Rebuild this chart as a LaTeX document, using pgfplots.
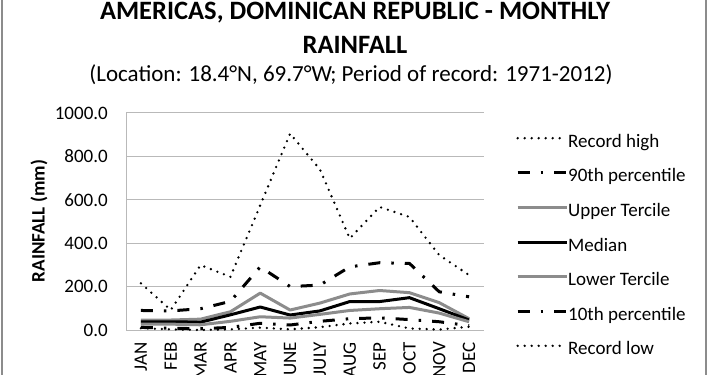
\documentclass[border=0pt]{standalone}
\usepackage{pgfplots}
\pgfplotsset{compat=1.18}
\usepackage{fontspec}
\setmainfont{Carlito}
\definecolor{tgray}{RGB}{140,140,140}
\definecolor{gridgray}{RGB}{185,185,185}
\definecolor{framegray}{RGB}{140,140,140}
\begin{document}
\begin{tikzpicture}[x=1pt,y=1pt]
\useasboundingbox (0,0) rectangle (710,375);
\clip (0,0) rectangle (710,375);
\fill[white] (0,0) rectangle (710,375);
\draw[framegray, line width=2pt] (1.5,0) -- (1.5,375);
\draw[framegray, line width=2pt] (706,0) -- (706,375);
\node[anchor=base, font=\bfseries\fontsize{26.5}{30}\selectfont] at (355,355) {AMERICAS, DOMINICAN REPUBLIC - MONTHLY};
\node[anchor=base, font=\bfseries\fontsize{26.5}{30}\selectfont] at (355,321) {RAINFALL};
\node[anchor=base, font=\fontsize{23}{27}\selectfont] at (351,293) {(Location: 18.4°N, 69.7°W; Period of record: 1971-2012)};
\node[rotate=90, font=\bfseries\fontsize{19}{22}\selectfont] at (39,154) {RAINFALL (mm)};
\begin{axis}[
  at={(126pt,45pt)}, anchor=south west,
  scale only axis, width=358pt, height=217pt,
  xmin=-0.5, xmax=11.5, ymin=0, ymax=1000,
  ytick={0,200,400,600,800,1000},
  xtick={0,...,11},
  xticklabels={JAN,FEB,MAR,APR,MAY,JUNE,JULY,AUG,SEP,OCT,NOV,DEC},
  xticklabel style={rotate=90, anchor=east, inner sep=0pt, xshift=-12pt},
  yticklabel style={anchor=east, inner sep=0pt, xshift=-18pt, /pgf/number format/.cd, fixed, fixed zerofill, precision=1, 1000 sep={}},
  /pgf/number format/assume math mode=true,
  tick label style={font=\fontsize{19}{22}\selectfont},
  major tick length=0pt,
  axis x line=bottom, axis y line=left,
  axis line style={-, color=gridgray, line width=1pt},
  ymajorgrids, grid style={gridgray, line width=1pt},
  clip=false,
  legend style={draw=none, fill=none, at={(1,1)}, anchor=north west, xshift=32pt, yshift=-21pt,
    font=\fontsize{19}{22}\selectfont, inner sep=0pt, row sep=16.6pt,
    nodes={inner sep=0pt, text height=13pt, text depth=5pt}},
  legend cell align=left,
  legend image code/.code={\draw[#1] (0pt,5pt) -- (49pt,5pt);},
  every even column/.style={column sep=8pt},
]
\addplot[black, line width=2.6pt, line cap=round, line join=round, dash pattern=on 0pt off 7pt] coordinates {(0,215)(1,92)(2,299)(3,245)(4,575)(5,905)(6,740)(7,422)(8,567)(9,521)(10,345)(11,253)};
\addlegendentry{Record high}
\addplot[black, line width=3pt, line join=round, dash pattern=on 12pt off 11pt on 2.5pt off 11pt] coordinates {(0,90)(1,88)(2,98)(3,132)(4,291)(5,200)(6,207)(7,291)(8,310)(9,307)(10,176)(11,153)};
\addlegendentry{90th percentile}
\addplot[tgray, line width=3pt, line join=round] coordinates {(0,46)(1,46)(2,50)(3,84)(4,170)(5,92)(6,124)(7,166)(8,182)(9,172)(10,126)(11,52)};
\addlegendentry{Upper Tercile}
\addplot[black, line width=3pt, line join=round] coordinates {(0,38)(1,38)(2,36)(3,70)(4,106)(5,69)(6,88)(7,131)(8,131)(9,149)(10,98)(11,46)};
\addlegendentry{Median}
\addplot[tgray, line width=3pt, line join=round] coordinates {(0,27)(1,27)(2,24)(3,40)(4,61)(5,55)(6,72)(7,90)(8,98)(9,104)(10,78)(11,38)};
\addlegendentry{Lower Tercile}
\addplot[black, line width=3pt, line join=round, dash pattern=on 12pt off 11pt on 2.5pt off 11pt] coordinates {(0,12)(1,8)(2,6)(3,12)(4,31)(5,23)(6,40)(7,52)(8,56)(9,48)(10,38)(11,20)};
\addlegendentry{10th percentile}
\addplot[black, line width=2.6pt, line cap=round, line join=round, dash pattern=on 0pt off 7pt] coordinates {(0,8)(1,3)(2,0)(3,3)(4,11)(5,3)(6,13)(7,30)(8,38)(9,7)(10,2)(11,15)};
\addlegendentry{Record low}
\end{axis}
\end{tikzpicture}
\end{document}
